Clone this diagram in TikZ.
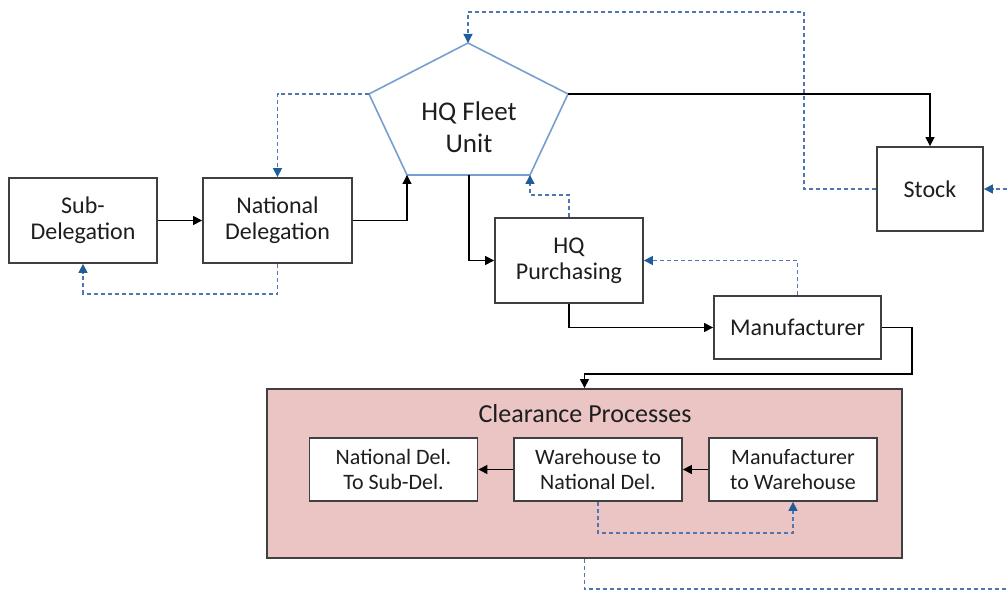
\documentclass[tikz,border=0pt]{standalone}
\usepackage{fontspec}
\setmainfont{Carlito}
\usetikzlibrary{arrows.meta}

\definecolor{boxgray}{RGB}{64,64,64}
\definecolor{inkgray}{RGB}{30,30,30}
\definecolor{fleetblue}{RGB}{118,158,208}
\definecolor{dashblue}{RGB}{79,117,181}
\definecolor{tipblue}{RGB}{31,92,153}
\definecolor{clearpink}{RGB}{235,196,196}

\tikzset{
    box/.style={draw=boxgray, line width=0.9pt, fill=white, align=center, inner sep=2pt,
        text=inkgray, font=\fontsize{12}{13}\selectfont},
    subbox/.style={box, minimum width=84pt, minimum height=31.5pt, font=\fontsize{11}{12.5}\selectfont},
    fleetline/.style={draw=fleetblue, line width=0.8pt, line join=miter},
    flow/.style={draw=black, line width=0.6pt, -{Triangle[length=4.5pt,width=4.5pt]}},
    feedback/.style={draw=dashblue, line width=0.65pt, dash pattern=on 2pt off 1.5pt,
        -{Triangle[length=4.5pt,width=4.5pt,color=tipblue]}},
}

\begin{document}
\begin{tikzpicture}[x=0.5pt,y=-0.5pt]
    \useasboundingbox (0,0) rectangle (1008,592);
    %draw clearance frame
    \node[box, fill=clearpink, minimum width=317.5pt, minimum height=84.5pt] (clear) at (584.5,473.5) {};
    \node[font=\fontsize{13}{15}\selectfont, text=inkgray] (cleartitle) at (585,414) {Clearance Processes};
    \node[subbox] (ndsd) at (393.5,469.5) {National Del.\\To Sub-Del.};
    \node[subbox] (whnd) at (598,469.5) {Warehouse to\\National Del.};
    \node[subbox] (mfwh) at (793,469.5) {Manufacturer\\to Warehouse};
    %draw fleet unit
    \coordinate (ftop) at (468,43);
    \coordinate (fright) at (568,94);
    \coordinate (fbr) at (530,175);
    \coordinate (fbl) at (407,175);
    \coordinate (fleft) at (369,94);
    \coordinate (fbot) at (469,175);
    \draw[fleetline] (ftop) -- (fright) -- (fbr) -- (fbl) -- (fleft) -- cycle;
    \node[align=center, text=inkgray, font=\fontsize{13.5}{16}\selectfont] (fleet) at (469,127) {HQ Fleet\\Unit};
    %draw boxes
    \node[box, minimum width=74pt, minimum height=42.5pt] (subdel) at (83,220.5) {Sub-\\Delegation};
    \node[box, minimum width=74.5pt, minimum height=42.5pt] (natdel) at (277.5,220.5) {National\\Delegation};
    \node[box, minimum width=74pt, minimum height=42.5pt] (hqpurch) at (569,260.5) {HQ\\Purchasing};
    \node[box, minimum width=83.5pt, minimum height=31.5pt] (manuf) at (797.5,327.5) {Manufacturer};
    \node[box, minimum width=53pt, minimum height=42pt] (stock) at (930,189) {Stock};
    \coordinate (cin) at (584.5,374);
    \coordinate (topc) at (804,12);
    \coordinate (offpage) at (1025,589);
    %draw flows
    \draw[flow] (subdel) -- (natdel);
    \draw[flow] (natdel.east) -| (fbl);
    \draw[flow] (fright) -| (stock.north);
    \draw[flow] (fbot) |- (hqpurch.west);
    \draw[flow] (hqpurch.south) |- (manuf.west);
    \draw[flow] (manuf.east) -- ++(30,0) |- (cin) -- (clear.north);
    \draw[flow] (whnd) -- (ndsd);
    \draw[flow] (mfwh) -- (whnd);
    %draw feedback
    \draw[feedback] (natdel.south) -- ++(0,30) -| (subdel.south);
    \draw[feedback] (fleft) -| (natdel.north);
    \draw[feedback] (hqpurch.north) -- ++(0,-22) -| (fbr);
    \draw[feedback] (manuf.north) |- (hqpurch.east);
    \draw[feedback] (stock.west) -| (topc) -| (ftop);
    \draw[feedback] (whnd.south) -- ++(0,31) -| (mfwh.south);
    \draw[feedback] (clear.south) |- (offpage) |- (stock.east);
\end{tikzpicture}
\end{document}
